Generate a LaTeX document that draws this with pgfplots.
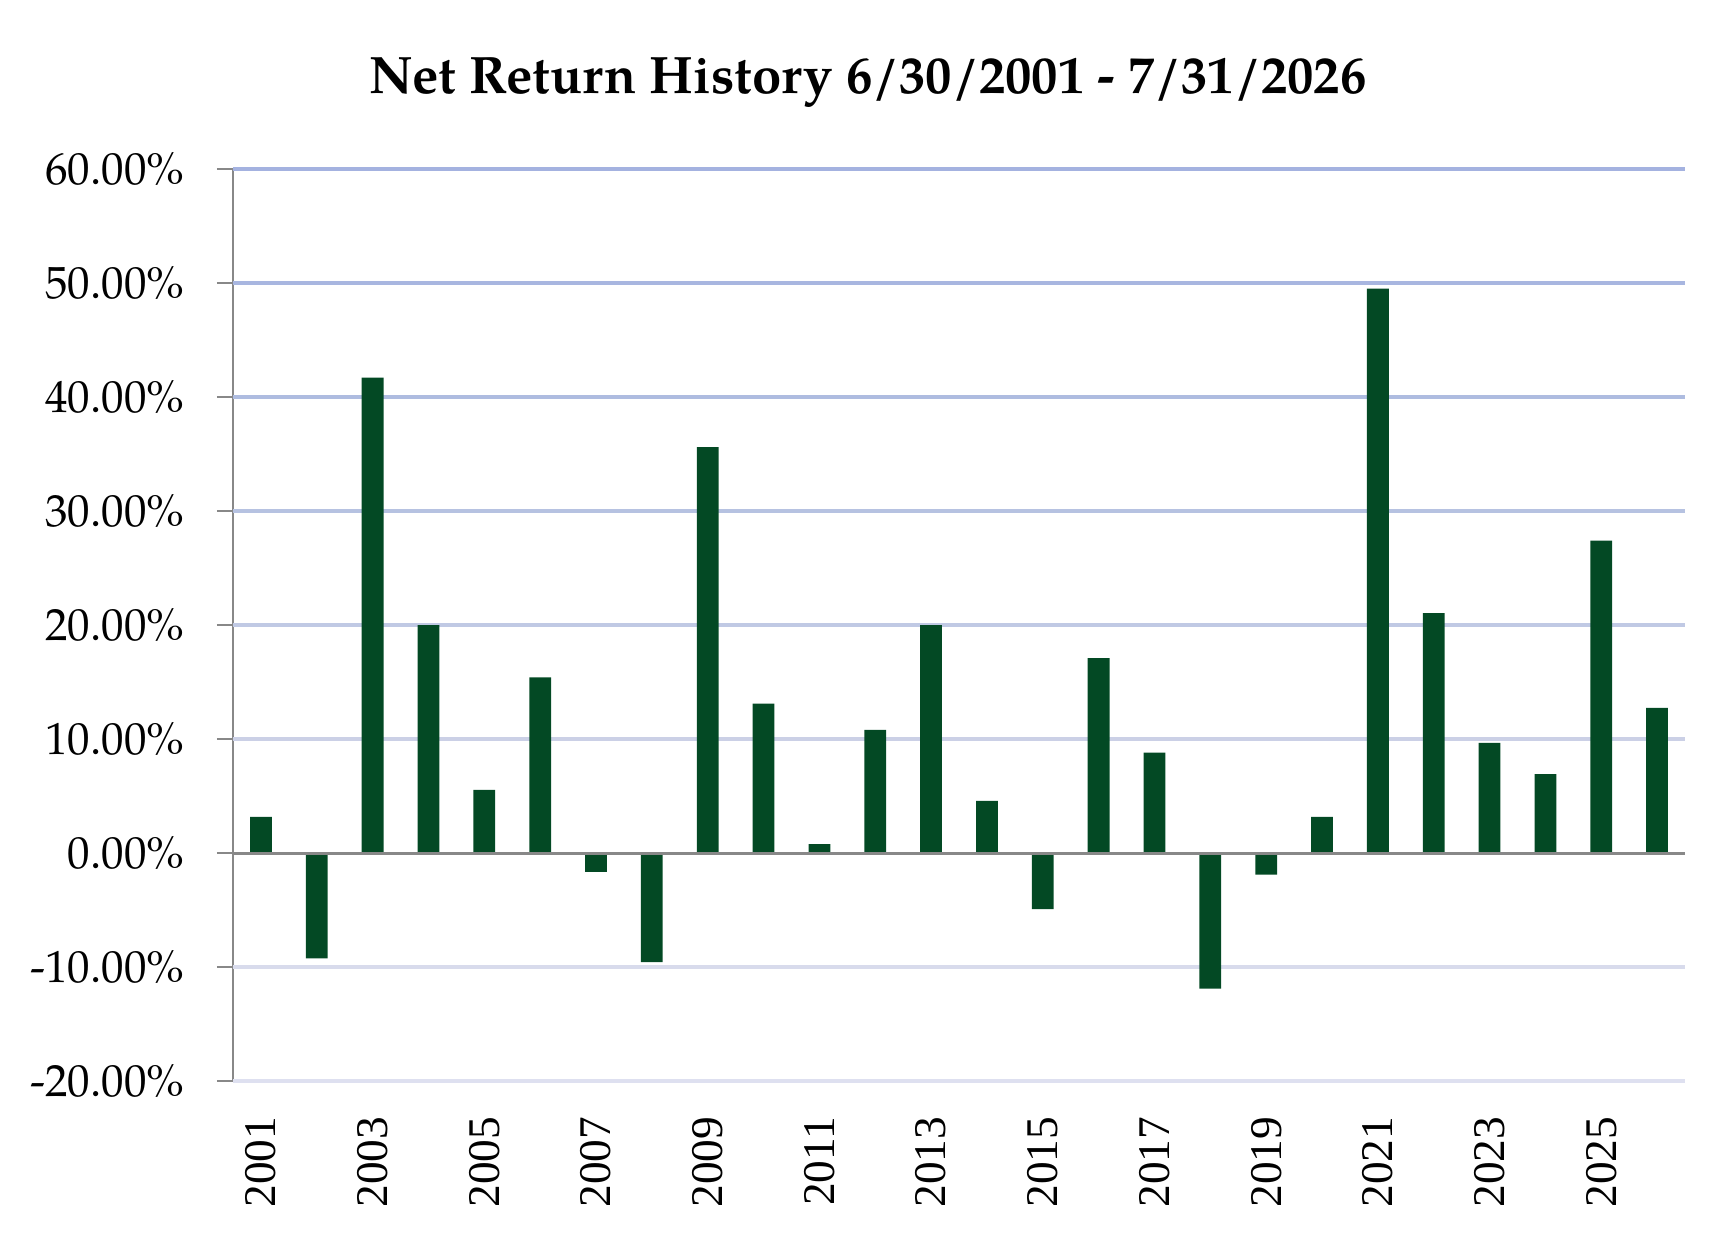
\documentclass[border=0pt]{standalone}
\usepackage{fontspec}
\setmainfont{TeX Gyre Pagella}
\newfontfamily\timesfont{Liberation Serif}
\usepackage{pgfplots}
\pgfplotsset{compat=1.18}
\definecolor{bargreen}{RGB}{3,73,36}
\definecolor{axgray}{RGB}{136,136,136}
\definecolor{g60}{RGB}{164,178,224}
\definecolor{g50}{RGB}{168,182,224}
\definecolor{g40}{RGB}{174,188,224}
\definecolor{g30}{RGB}{182,194,225}
\definecolor{g20}{RGB}{192,201,228}
\definecolor{g10}{RGB}{203,208,230}
\definecolor{gm10}{RGB}{216,219,236}
\definecolor{gm20}{RGB}{222,224,240}
\pgfplotstableread{
x y
0 3.17
1 -9.24
2 41.7
3 20.0
4 5.54
5 15.4
6 -1.65
7 -9.57
8 35.6
9 13.1
10 0.79
11 10.8
12 20.0
13 4.57
14 -4.93
15 17.1
16 8.8
17 -11.9
18 -1.9
19 3.16
20 49.5
21 21.04
22 9.66
23 6.93
24 27.4
25 12.74
}\returns
\begin{document}
\begin{tikzpicture}
\path[use as bounding box] (-69.9pt,-45.6pt) rectangle (450.9pt,324.3pt);
\begin{axis}[
  at={(0,0)}, anchor=south west,
  scale only axis, width=435.6pt, height=273.6pt,
  xmin=-0.5, xmax=25.5, ymin=-20, ymax=60,
  clip=false,
  axis x line*=bottom, axis y line*=left,
  x axis line style={draw=none},
  y axis line style={draw=axgray, line width=0.75pt},
  xtick={0,2,...,24},
  xticklabels={2001,2003,2005,2007,2009,2011,2013,2015,2017,2019,2021,2023,2025},
  major x tick style={draw=none},
  xticklabel style={yshift=-10.5pt, rotate=90, anchor=east, inner sep=0pt, font=\timesfont\fontsize{13.6}{13.6}\selectfont},
  ytick={-20,-10,0,10,20,30,40,50,60},
  yticklabels={-20.00\%,-10.00\%,0.00\%,10.00\%,20.00\%,30.00\%,40.00\%,50.00\%,60.00\%},
  ytick align=outside,
  major tick length=4.8pt,
  major y tick style={draw=axgray, line width=0.75pt},
  yticklabel style={anchor=east, inner sep=0pt, xshift=-9.6pt, font=\fontsize{13.5}{13.5}\selectfont},
]
\draw[line width=1pt, g60] (axis cs:-0.5,60) -- (axis cs:25.5,60);
\draw[line width=1pt, g50] (axis cs:-0.5,50) -- (axis cs:25.5,50);
\draw[line width=1pt, g40] (axis cs:-0.5,40) -- (axis cs:25.5,40);
\draw[line width=1pt, g30] (axis cs:-0.5,30) -- (axis cs:25.5,30);
\draw[line width=1pt, g20] (axis cs:-0.5,20) -- (axis cs:25.5,20);
\draw[line width=1pt, g10] (axis cs:-0.5,10) -- (axis cs:25.5,10);
\draw[line width=1pt, gm10] (axis cs:-0.5,-10) -- (axis cs:25.5,-10);
\draw[line width=1pt, gm20] (axis cs:-0.5,-20) -- (axis cs:25.5,-20);
\addplot[ybar, bar width=0.39, bar shift=0pt, fill=bargreen, draw=none] table[x=x, y=y] {\returns};
\draw[line width=0.9pt, axgray] (axis cs:-0.5,0) -- (axis cs:25.5,0);
\end{axis}
\node[anchor=base, font=\bfseries\fontsize{15.8}{15.8}\selectfont] at (190.5pt,296.1pt) {Net Return History 6/30/2001 - 7/31/2026};
\end{tikzpicture}
\end{document}
